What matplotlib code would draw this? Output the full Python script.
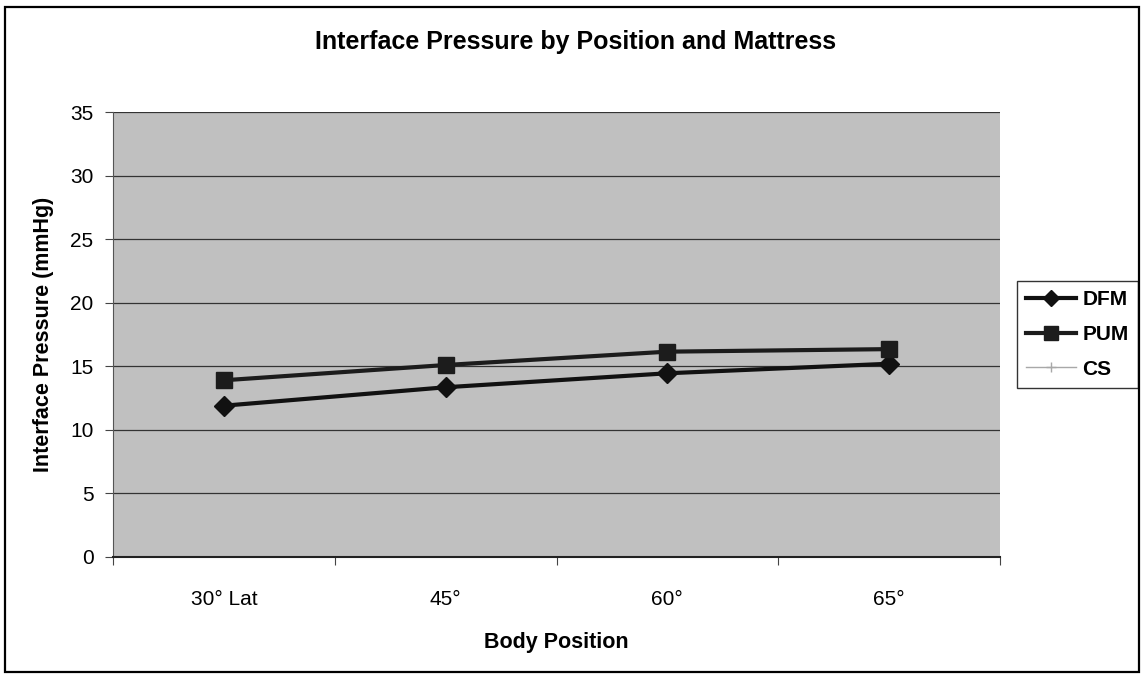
import matplotlib.pyplot as plt
from matplotlib.patches import Rectangle

plt.rcParams['font.family'] = ['Liberation Sans', 'DejaVu Sans']

# chart data
positions = ['30° Lat', '45°', '60°', '65°']
dfm = [11.9, 13.35, 14.45, 15.2]
pum = [13.9, 15.1, 16.15, 16.35]
cs = [None, None, None, None]  # listed in legend, not visible in plot

W, H = 1144, 677
fig = plt.figure(figsize=(W / 100, H / 100), dpi=100)
# plot area in pixels: x 113..1000, y 112..557
ax = fig.add_axes([113 / W, 1 - 557 / H, 887 / W, 445 / H])

# outer frame around the whole chart
fig.patches.append(Rectangle((5 / W, 5 / H), 1 - 10 / W, 1 - 12 / H, transform=fig.transFigure,
                             fill=False, edgecolor='black', linewidth=1.6))

ax.set_facecolor('#c0c0c0')
x = list(range(len(positions)))
ax.plot(x, dfm, color='#111111', linewidth=3, marker='D', markersize=10, label='DFM')
ax.plot(x, pum, color='#1c1c1c', linewidth=3, marker='s', markersize=12, label='PUM')
ax.plot(x, [float('nan') if v is None else v for v in cs], color='#a8a8a8', linewidth=1,
        marker='+', markersize=9, label='CS')

ax.set_xlim(-0.5, len(positions) - 0.5)
ax.set_ylim(0, 35)
ax.set_yticks(range(0, 36, 5))
ax.set_xticks([i - 0.5 for i in range(len(positions) + 1)])
ax.set_xticklabels([])
ax.set_xticks(x, minor=True)
ax.set_xticklabels(positions, minor=True, fontsize=15)
ax.tick_params(axis='x', which='minor', length=0, pad=24)
ax.tick_params(axis='x', which='major', length=6, direction='out', color='#444444')
ax.tick_params(axis='y', length=6, labelsize=15, color='#444444', pad=8)
ax.yaxis.grid(True, color='#333333', linewidth=0.9)
ax.set_axisbelow(True)
for side in ['top', 'right']:
    ax.spines[side].set_visible(False)
ax.spines['left'].set_color('#555555')
ax.spines['bottom'].set_color('#222222')
ax.spines['bottom'].set_linewidth(1.5)

fig.text(576 / W, 1 - 42 / H, 'Interface Pressure by Position and Mattress', fontsize=18,
         fontweight='bold', ha='center', va='center')
ax.set_xlabel('Body Position', fontsize=15.5, fontweight='bold', labelpad=16)
ax.set_ylabel('Interface Pressure (mmHg)', fontsize=15.5, fontweight='bold', labelpad=12)

leg = ax.legend(loc='center left', bbox_to_anchor=(1.019, 0.5), frameon=True, fancybox=False,
                edgecolor='black', prop={'weight': 'bold', 'size': 15}, handlelength=2.4,
                handletextpad=0.3, borderpad=0.45, labelspacing=0.75, borderaxespad=0,
                markerscale=0.8)
leg.get_frame().set_linewidth(1.0)

fig.savefig('out.png', dpi=100)
